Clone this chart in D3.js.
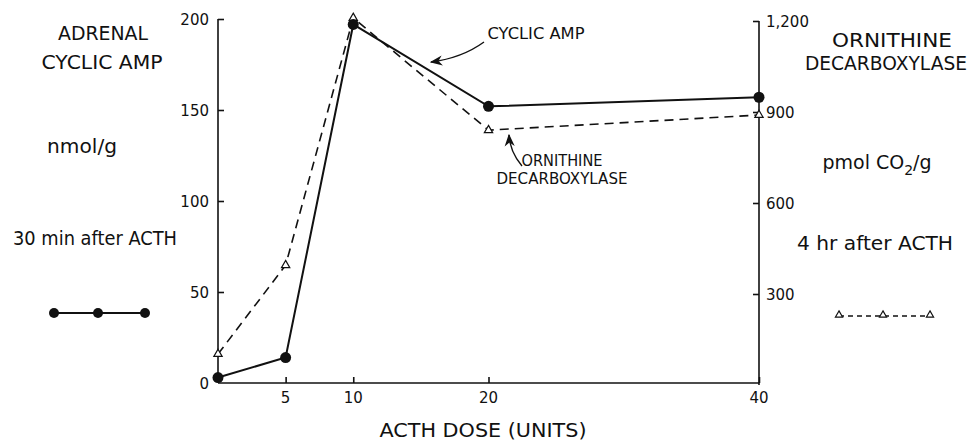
<!DOCTYPE html>
<html lang="en">
<head>
<meta charset="utf-8">
<title>ACTH dose response</title>
<style>
  body { margin: 0; background: #fff; }
  svg text { font-family: "DejaVu Sans", sans-serif; fill: #111; }
</style>
</head>
<body>
<div id="chart"></div>
<script src="https://d3js.org/d3.v7.min.js"></script>
<script>
// doses (units of ACTH), 0 = control
var doses = [0, 5, 10, 20, 40];
var cyclicAmp = [3, 14, 197, 152, 157];          // nmol/g, left axis
var ornithine = [102, 395, 1210, 840, 890];      // pmol CO2/g, right axis
var xTicks = [5, 10, 20, 40];
var leftTicks = [0, 50, 100, 150, 200];
var rightTicks = [300, 600, 900, 1200];

var W = 969, H = 441;
var svg = d3.select("#chart").append("svg")
  .attr("width", W).attr("height", H);

var x = d3.scaleLinear().domain([0, 40]).range([218, 759]);
var y = d3.scaleLinear().domain([0, 200]).range([383, 19]);
var y2 = d3.scaleLinear().domain([0, 1200]).range([385, 21]);

// axes
svg.append("g")
  .attr("transform", "translate(0,383)")
  .call(d3.axisTop(x).tickValues(xTicks).tickSize(6).tickFormat(""))
  .call(function(g) { g.select(".domain").attr("d", "M218,0H759"); });
svg.selectAll(".xlab").data(xTicks).enter().append("text")
  .attr("x", function(d) { return x(d); })
  .attr("y", 403)
  .attr("text-anchor", "middle")
  .style("font-size", "15px")
  .text(function(d) { return d; });

svg.append("g")
  .attr("transform", "translate(218,0)")
  .call(d3.axisRight(y).tickValues(leftTicks.slice(1)).tickSize(6).tickFormat(""))
  .call(function(g) { g.select(".domain").attr("d", "M0,19V383"); });
svg.selectAll(".ylab").data(leftTicks).enter().append("text")
  .attr("x", 209)
  .attr("y", function(d) { return y(d) + 6; })
  .attr("text-anchor", "end")
  .style("font-size", "15px")
  .text(function(d) { return d; });

svg.append("g")
  .attr("transform", "translate(759,0)")
  .call(d3.axisLeft(y2).tickValues(rightTicks).tickSize(6).tickFormat(""))
  .call(function(g) { g.select(".domain").attr("d", "M0,21V385"); });
svg.selectAll(".y2lab").data(rightTicks).enter().append("text")
  .attr("x", 766)
  .attr("y", function(d) { return y2(d) + 6; })
  .style("font-size", "15px")
  .text(function(d) { return d3.format(",")(d); });

svg.selectAll(".domain, .tick line").attr("stroke", "#111").attr("stroke-width", 1.6);

// lines
var idx = d3.range(doses.length);
var lineAmp = d3.line().x(function(i) { return x(doses[i]); }).y(function(i) { return y(cyclicAmp[i]); });
var lineOdc = d3.line().x(function(i) { return x(doses[i]); }).y(function(i) { return y2(ornithine[i]); });

svg.append("path").attr("d", lineOdc(idx))
  .attr("fill", "none").attr("stroke", "#111").attr("stroke-width", 1.6)
  .attr("stroke-dasharray", "9,6");
svg.append("path").attr("d", lineAmp(idx))
  .attr("fill", "none").attr("stroke", "#111").attr("stroke-width", 2);

var tri = d3.symbol().type(d3.symbolTriangle).size(30);
svg.selectAll(".tri").data(idx).enter().append("path")
  .attr("d", tri)
  .attr("transform", function(i) { return "translate(" + x(doses[i]) + "," + y2(ornithine[i]) + ")"; })
  .attr("fill", "#fff").attr("stroke", "#111").attr("stroke-width", 1.2);
svg.selectAll(".dot").data(idx).enter().append("circle")
  .attr("cx", function(i) { return x(doses[i]); })
  .attr("cy", function(i) { return y(cyclicAmp[i]); })
  .attr("r", 5.5).attr("fill", "#111");

// text helper: centred, stretched to the width seen in the figure
function label(tx, ty, s, size, len) {
  var t = svg.append("text").attr("x", tx).attr("y", ty).attr("text-anchor", "middle")
    .style("font-size", size + "px").text(s);
  if (len) t.attr("textLength", len).attr("lengthAdjust", "spacingAndGlyphs");
  return t;
}

// axis title
label(483, 437, "ACTH DOSE (UNITS)", 19, 207);

// left side labels
label(103, 40, "ADRENAL", 19, 90);
label(102, 69, "CYCLIC AMP", 19, 121);
label(82, 153, "nmol/g", 19, 70);
label(95, 245, "30 min after ACTH", 19, 164);

svg.append("line").attr("x1", 54).attr("x2", 145).attr("y1", 313).attr("y2", 313)
  .attr("stroke", "#111").attr("stroke-width", 2);
svg.selectAll(".ldot").data([54, 98, 145]).enter().append("circle")
  .attr("cx", function(d) { return d; }).attr("cy", 313).attr("r", 5).attr("fill", "#111");

// right side labels
label(892, 47, "ORNITHINE", 19, 120);
label(886, 70, "DECARBOXYLASE", 19, 162);
var pm = label(877, 169, "", 19);
pm.append("tspan").text("pmol  CO");
pm.append("tspan").attr("dy", 6).style("font-size", "14px").text("2");
pm.append("tspan").attr("dy", -6).text("/g");
label(875, 250, "4 hr  after ACTH", 19, 156);

svg.append("line").attr("x1", 839).attr("x2", 930).attr("y1", 316).attr("y2", 316)
  .attr("stroke", "#111").attr("stroke-width", 1.3).attr("stroke-dasharray", "5,4");
svg.selectAll(".ltri").data([839, 883, 930]).enter().append("path")
  .attr("d", d3.symbol().type(d3.symbolTriangle).size(22))
  .attr("transform", function(d) { return "translate(" + d + ",315)"; })
  .attr("fill", "#fff").attr("stroke", "#111").attr("stroke-width", 1.2);

// annotations
svg.append("defs").append("marker").attr("id", "ah")
  .attr("viewBox", "0 0 10 10").attr("refX", 9).attr("refY", 5)
  .attr("markerWidth", 9).attr("markerHeight", 9).attr("orient", "auto")
  .append("path").attr("d", "M0,1L10,5L0,9L3,5Z").attr("fill", "#111");

label(536, 39, "CYCLIC AMP", 15, 97);
svg.append("path").attr("d", "M484,42 Q462,58 431,62")
  .attr("fill", "none").attr("stroke", "#111").attr("stroke-width", 1.4).attr("marker-end", "url(#ah)");

label(562, 166, "ORNITHINE", 15, 81);
label(562, 184, "DECARBOXYLASE", 15, 131);
svg.append("path").attr("d", "M522,166 Q510,152 509,135")
  .attr("fill", "none").attr("stroke", "#111").attr("stroke-width", 1.4).attr("marker-end", "url(#ah)");
</script>
</body>
</html>
